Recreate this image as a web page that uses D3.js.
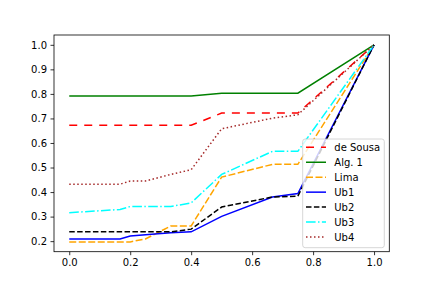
<!DOCTYPE html>
<html>
<head>
<meta charset="utf-8">
<script src="https://cdn.jsdelivr.net/npm/d3@7"></script>
<style>
  body { margin: 0; background: #fff; }
  svg { display: block; font-family: "DejaVu Sans", sans-serif; }
</style>
</head>
<body>
<script>
// x values shared by every curve
const xs = [0, 0.1667, 0.2, 0.25, 0.3333, 0.4, 0.5, 0.6667, 0.75, 1.0];

const deSousa = [0.672, 0.672, 0.672, 0.672, 0.672, 0.672, 0.722, 0.722, 0.722, 1.0];
const alg1    = [0.791, 0.791, 0.791, 0.791, 0.791, 0.791, 0.803, 0.803, 0.803, 1.0];
const lima    = [0.197, 0.197, 0.197, 0.209, 0.262, 0.262, 0.461, 0.513, 0.513, 1.0];
const ub1     = [0.209, 0.209, 0.221, 0.226, 0.234, 0.238, 0.301, 0.380, 0.394, 1.0];
const ub2     = [0.238, 0.238, 0.238, 0.238, 0.238, 0.249, 0.339, 0.380, 0.383, 1.0];
const ub3     = [0.316, 0.329, 0.341, 0.341, 0.341, 0.356, 0.472, 0.566, 0.566, 1.0];
const ub4     = [0.432, 0.432, 0.445, 0.445, 0.472, 0.491, 0.658, 0.701, 0.715, 1.0];

const xTicks = [0, 0.2, 0.4, 0.6, 0.8, 1.0];
const yTicks = [0.2, 0.3, 0.4, 0.5, 0.6, 0.7, 0.8, 0.9, 1.0];

const series = [
  { name: "de Sousa", values: deSousa, color: "red", dash: "8,7" },
  { name: "Alg. 1", values: alg1, color: "green", dash: null },
  { name: "Lima", values: lima, color: "orange", dash: "7,2.5" },
  { name: "Ub1", values: ub1, color: "blue", dash: null },
  { name: "Ub2", values: ub2, color: "black", dash: "5.5,2.4" },
  { name: "Ub3", values: ub3, color: "cyan", dash: "9.6,2.4,1.5,2.4" },
  { name: "Ub4", values: ub4, color: "brown", dash: "1.5,2.5" }
];

const width = 432, height = 288;
const plot = { left: 54, right: 389.3, top: 35, bottom: 251.7 };

const svg = d3.select("body").append("svg")
  .attr("width", width)
  .attr("height", height);

const x = d3.scaleLinear().domain([-0.05, 1.05]).range([plot.left, plot.right]);
const y = d3.scaleLinear().domain([0.157, 1.040]).range([plot.bottom, plot.top]);

// axes
svg.append("g")
  .attr("transform", `translate(0,${plot.bottom})`)
  .call(d3.axisBottom(x).tickValues(xTicks).tickFormat(d3.format(".1f")).tickSizeOuter(0).tickSize(3.5).tickPadding(3.5))
  .call(g => g.select(".domain").remove())
  .call(g => g.selectAll("line").attr("stroke", "#000").attr("stroke-width", 0.8))
  .call(g => g.selectAll("text").attr("font-size", 10).attr("fill", "#000").attr("font-family", "DejaVu Sans"));

svg.append("g")
  .attr("transform", `translate(${plot.left},0)`)
  .call(d3.axisLeft(y).tickValues(yTicks).tickFormat(d3.format(".1f")).tickSizeOuter(0).tickSize(3.5).tickPadding(3.5))
  .call(g => g.select(".domain").remove())
  .call(g => g.selectAll("line").attr("stroke", "#000").attr("stroke-width", 0.8))
  .call(g => g.selectAll("text").attr("font-size", 10).attr("fill", "#000").attr("font-family", "DejaVu Sans"));

// lines
const clip = svg.append("clipPath").attr("id", "clip")
  .append("rect")
  .attr("x", plot.left).attr("y", plot.top)
  .attr("width", plot.right - plot.left).attr("height", plot.bottom - plot.top);

const line = d3.line()
  .x((d, i) => x(xs[i]))
  .y(d => y(d));

svg.append("g").attr("clip-path", "url(#clip)")
  .selectAll("path")
  .data(series)
  .enter()
  .append("path")
    .attr("d", d => line(d.values))
    .attr("fill", "none")
    .attr("stroke", d => d.color)
    .attr("stroke-width", 1.5)
    .attr("stroke-dasharray", d => d.dash);

// frame
svg.append("rect")
  .attr("x", plot.left).attr("y", plot.top)
  .attr("width", plot.right - plot.left).attr("height", plot.bottom - plot.top)
  .attr("fill", "none")
  .attr("stroke", "#000")
  .attr("stroke-width", 0.8);

// legend
const legend = svg.append("g");
legend.append("rect")
  .attr("x", 302.7).attr("y", 139)
  .attr("width", 81.6).attr("height", 108.7)
  .attr("rx", 2.5)
  .attr("fill", "#fff")
  .attr("fill-opacity", 0.8)
  .attr("stroke", "#cccccc")
  .attr("stroke-width", 0.8);

const rows = legend.selectAll("g.row")
  .data(series)
  .enter()
  .append("g")
    .attr("class", "row")
    .attr("transform", (d, i) => `translate(0,${147.3 + i * 14.95})`);

rows.append("line")
  .attr("x1", 306).attr("x2", 326)
  .attr("y1", 0).attr("y2", 0)
  .attr("stroke", d => d.color)
  .attr("stroke-width", 1.5)
  .attr("stroke-dasharray", d => d.dash);

rows.append("text")
  .attr("x", 334.3)
  .attr("y", 3.6)
  .attr("font-size", 10)
  .attr("fill", "#000")
  .text(d => d.name);
</script>
</body>
</html>
